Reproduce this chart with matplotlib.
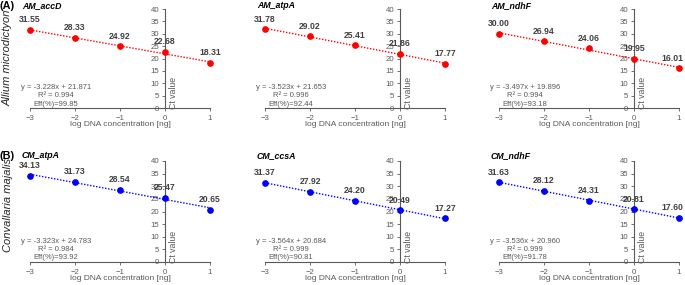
import matplotlib
matplotlib.use("Agg")
import matplotlib.pyplot as plt
import matplotlib.transforms as mtransforms
import numpy as np

plt.rcParams['font.family'] = ['Liberation Sans', 'DejaVu Sans']

log_conc = [-3, -2, -1, 0, 1]

titles = ["AM_accD", "AM_atpA", "AM_ndhF", "CM_atpA", "CM_ccsA", "CM_ndhF"]
ct_AM_accD = [31.55, 28.33, 24.92, 22.68, 18.31]
ct_AM_atpA = [31.78, 29.02, 25.41, 21.86, 17.77]
ct_AM_ndhF = [30.00, 26.94, 24.06, 19.95, 16.01]
ct_CM_atpA = [34.13, 31.73, 28.54, 25.47, 20.65]
ct_CM_ccsA = [31.37, 27.92, 24.20, 20.49, 17.27]
ct_CM_ndhF = [31.63, 28.12, 24.31, 20.81, 17.60]
ct_values = [ct_AM_accD, ct_AM_atpA, ct_AM_ndhF, ct_CM_atpA, ct_CM_ccsA, ct_CM_ndhF]

slopes = [-3.228, -3.523, -3.497, -3.323, -3.564, -3.536]
intercepts = [21.871, 21.653, 19.896, 24.783, 20.684, 20.960]
r2_values = [0.994, 0.996, 0.994, 0.984, 0.999, 0.999]
efficiencies = [99.85, 92.44, 93.18, 93.92, 90.81, 91.78]

y_ticks = [0, 5, 10, 15, 20, 25, 30, 35, 40]
species = ["Allium microdictyon", "Convallaria majalis"]
row_tags = ["(A)", "(B)"]
colors = ["#FF0000", "#0000FF"]

W, H = 685, 285
fig = plt.figure(figsize=(W / 100, H / 100), dpi=100)

lefts_px = [30, 265, 499]
width_px = 180
rows_px = [(9, 108), (161, 262)]  # top, bottom
title_y_px = [6, 156]
species_y_px = [58, 205]
gray = "#595959"

for i in range(6):
    r, c = divmod(i, 3)
    top, bot = rows_px[r]
    ax = fig.add_axes([lefts_px[c] / W, 1 - bot / H, width_px / W, (bot - top) / H])
    col = colors[r]
    x = np.array(log_conc, dtype=float)
    y = ct_values[i]
    xl = np.array([-3, 1], dtype=float)
    ax.plot(xl, slopes[i] * xl + intercepts[i], linestyle=(0, (1, 1.2)), color=col, lw=1.0,
            clip_on=False, zorder=2)
    ax.plot(x, y, 'o', color=col, ms=3.8, clip_on=False, zorder=3)
    for k, (xi, yi) in enumerate(zip(x, y)):
        dx = -4.5 if (c == 2 and k == len(x) - 1) else 0
        ax.annotate(f"{yi:.2f}", (xi, yi), xytext=(dx, 4), textcoords="offset points",
                    ha="center", va="bottom", fontsize=6.2, fontweight="bold", color="#404040")
    ax.set_xlim(-3, 1)
    ax.set_ylim(0, 40)
    ax.set_yticks(y_ticks)
    ax.set_xticks(log_conc)
    ax.spines['top'].set_visible(False)
    ax.spines['right'].set_visible(False)
    ax.spines['left'].set_position(('data', 0))
    ax.spines['left'].set_color(gray)
    ax.spines['bottom'].set_color(gray)
    ax.spines['left'].set_linewidth(0.8)
    ax.spines['bottom'].set_linewidth(0.8)
    ax.tick_params(axis='both', labelsize=5.6, colors=gray, length=2.5, width=0.6, pad=1.5)
    ax.tick_params(axis='x', pad=2.5)
    ax.patch.set_visible(False)
    ax.set_xlabel("log DNA concentration [ng]", fontsize=6.0, color=gray, labelpad=-0.5)
    trans = mtransforms.offset_copy(ax.transData, fig=fig, x=6, y=0, units='points')
    ax.text(0, 6, "Ct value", transform=trans, rotation=90, ha="center", va="center",
            fontsize=6.3, color=gray)
    ax.text(-2.43, 4.9, f"y = {slopes[i]:.3f}x + {intercepts[i]:.3f}\nR² = {r2_values[i]:.3f}\nEff(%)={efficiencies[i]:.2f}",
            ha="center", va="center", fontsize=5.5, color=gray, linespacing=1.25)
    fig.text((lefts_px[c] - 8) / W, 1 - title_y_px[r] / H, titles[i], fontsize=6.3,
             fontweight="bold", fontstyle="italic", ha="left", va="center", color="black")

for r in range(2):
    fig.text(0.0, 1 - title_y_px[r] / H, row_tags[r], fontsize=7.8, fontweight="bold",
             ha="left", va="center")
    fig.text(8 / W, 1 - species_y_px[r] / H, species[r], fontsize=8, fontstyle="italic",
             rotation=90, ha="center", va="center", color="#262626")

fig.savefig("out.png", dpi=100)
